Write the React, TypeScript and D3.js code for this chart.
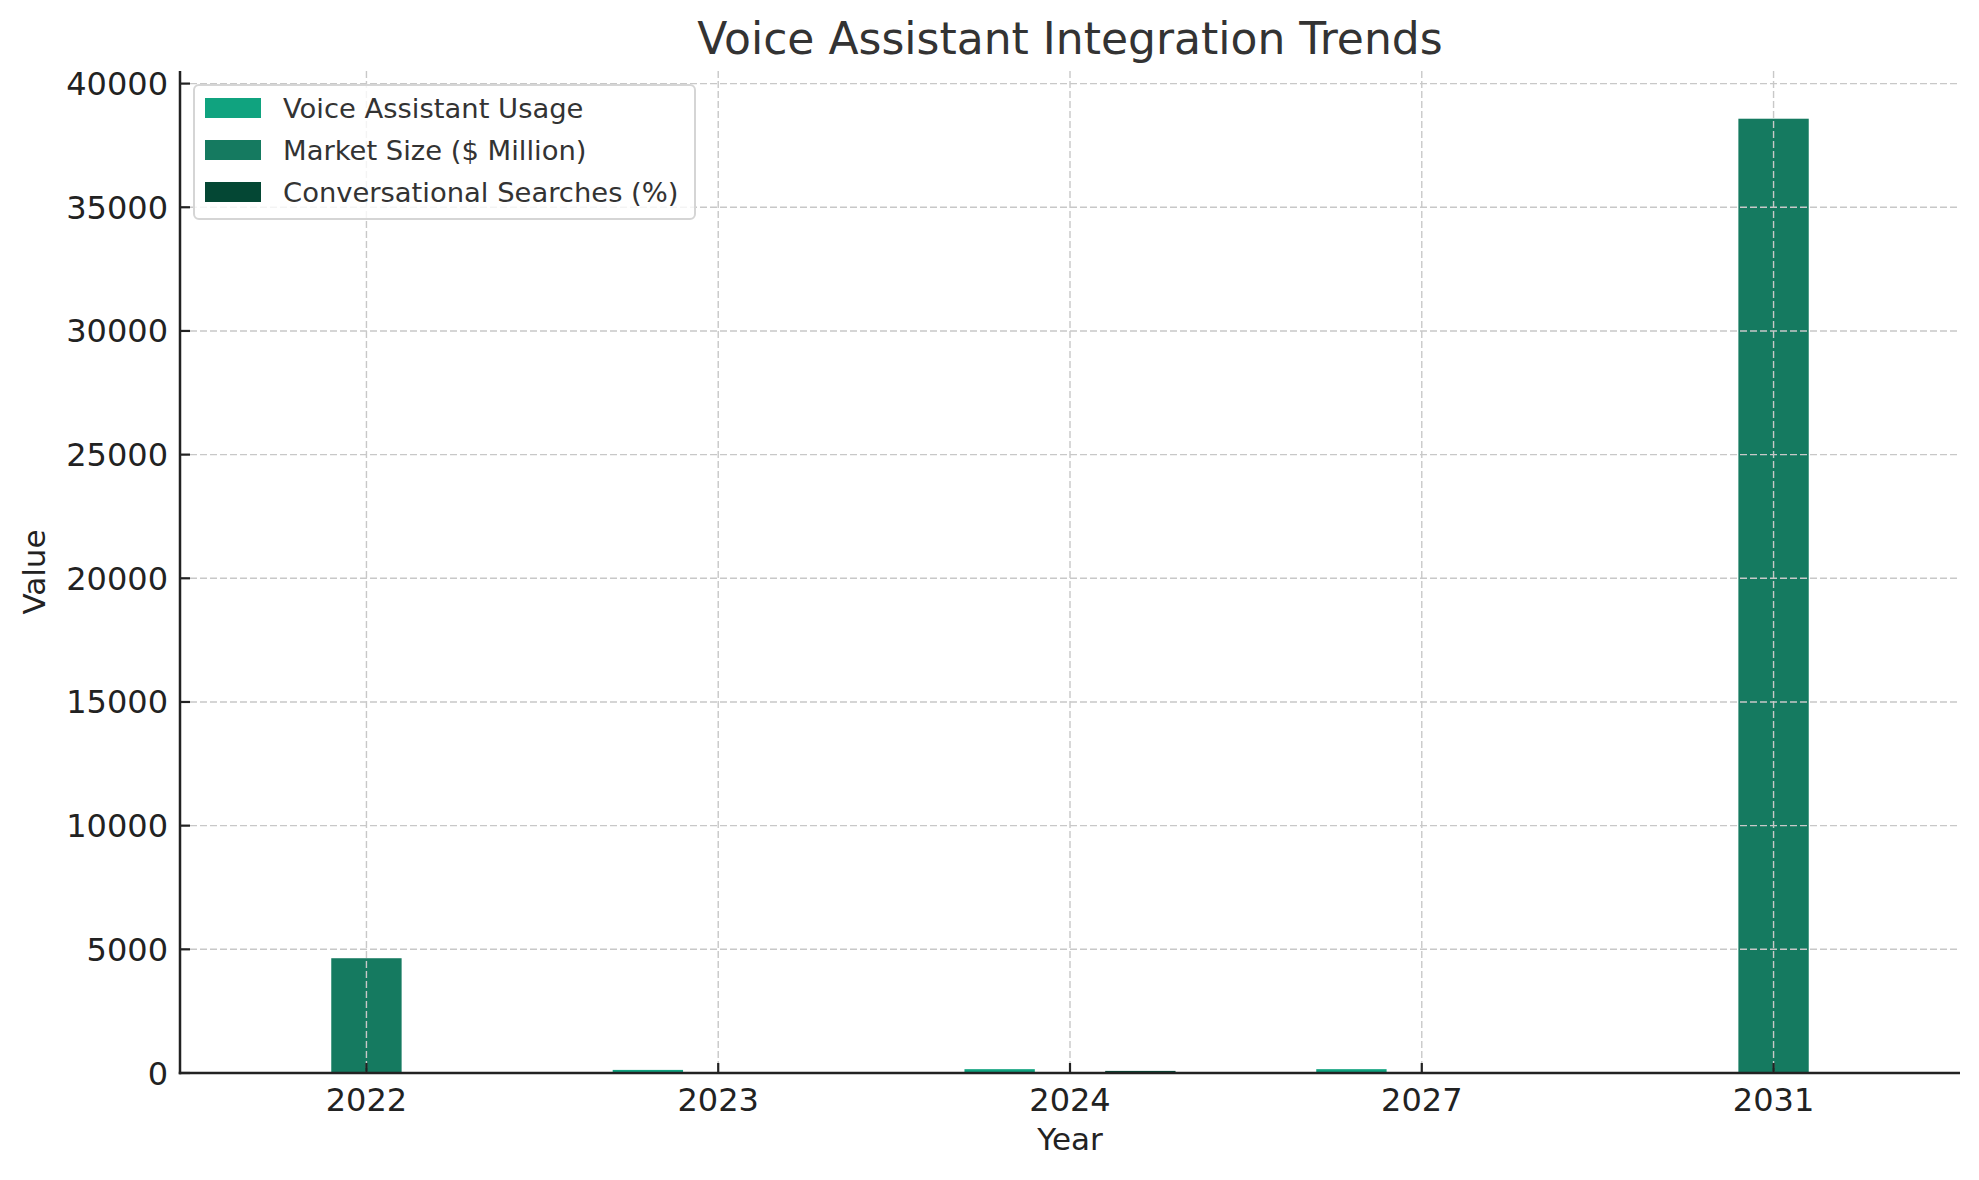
import React from 'react';
import * as d3 from 'd3';

// values
const years = ['2022', '2023', '2024', '2027', '2031'];
const voiceUsage = [0, 125, 155, 155, 0];
const marketSize = [4640, 0, 0, 0, 38580];
const convSearches = [0, 0, 85, 0, 0];
const seriesNames = ['Voice Assistant Usage', 'Market Size ($ Million)', 'Conversational Searches (%)'];
const seriesColors = ['#10a37f', '#157a60', '#044734'];
const yTicks = [0, 5000, 10000, 15000, 20000, 25000, 30000, 35000, 40000];

const W = 1979;
const H = 1180;
const margin = { top: 71, right: 19, bottom: 107, left: 180 };
const barWidth = 0.2;
const font = 'DejaVu Sans, sans-serif';

export default function App() {
  const series = [voiceUsage, marketSize, convSearches];

  const x = d3.scaleLinear()
    .domain([-0.53, years.length - 1 + 0.53])
    .range([margin.left, W - margin.right]);

  const yMax = (d3.max(series.flat()) || 1) * 1.05;
  const y = d3.scaleLinear()
    .domain([0, yMax])
    .range([H - margin.bottom, margin.top]);

  const plotLeft = margin.left;
  const plotRight = W - margin.right;
  const plotTop = margin.top;
  const plotBottom = H - margin.bottom;

  return (
    <svg width={W} height={H} style={{ position: 'absolute', left: 0, top: 0, background: '#fff' }}>
      {/* bars */}
      {series.map((vals, si) => (
        <g key={si} fill={seriesColors[si]}>
          {vals.map((v, i) => {
            const center = i + (si - 1) * barWidth;
            const x0 = x(center - barWidth / 2);
            const x1 = x(center + barWidth / 2);
            return v > 0 ? (
              <rect key={i} x={x0} y={y(v)} width={x1 - x0} height={y(0) - y(v)} />
            ) : null;
          })}
        </g>
      ))}

      {/* grid, drawn above the bars like matplotlib */}
      <g stroke="#c8c8c8" strokeWidth={1.4} strokeDasharray="7,3">
        {yTicks.map(t => (
          <line key={'h' + t} x1={plotLeft} x2={plotRight} y1={y(t)} y2={y(t)} />
        ))}
        {years.map((yr, i) => (
          <line key={'v' + yr} x1={x(i)} x2={x(i)} y1={plotTop} y2={plotBottom} />
        ))}
      </g>

      {/* spines */}
      <line x1={plotLeft} x2={plotLeft} y1={plotTop} y2={plotBottom + 1.25} stroke="#222" strokeWidth={2.5} />
      <line x1={plotLeft - 1.25} x2={plotRight} y1={plotBottom} y2={plotBottom} stroke="#222" strokeWidth={2.5} />

      {/* y ticks (inward) */}
      <g fontFamily={font} fontSize={32} fill="#222">
        {yTicks.map(t => (
          <g key={t}>
            <line x1={plotLeft} x2={plotLeft + 10} y1={y(t)} y2={y(t)} stroke="#222" strokeWidth={2.2} />
            <text x={plotLeft - 12} y={y(t)} dy="0.36em" textAnchor="end">{t}</text>
          </g>
        ))}
      </g>

      {/* x ticks (inward) */}
      <g fontFamily={font} fontSize={32} fill="#222">
        {years.map((yr, i) => (
          <g key={yr}>
            <line x1={x(i)} x2={x(i)} y1={plotBottom} y2={plotBottom - 10} stroke="#222" strokeWidth={2.2} />
            <text x={x(i)} y={plotBottom + 38} textAnchor="middle">{yr}</text>
          </g>
        ))}
      </g>

      {/* axis labels */}
      <text x={(plotLeft + plotRight) / 2} y={1150} textAnchor="middle" fontFamily={font} fontSize={31} fill="#222">Year</text>
      <text transform={`translate(45, ${(plotTop + plotBottom) / 2}) rotate(-90)`} textAnchor="middle" fontFamily={font} fontSize={31} fill="#222">Value</text>

      {/* title */}
      <text x={(plotLeft + plotRight) / 2} y={54} textAnchor="middle" fontFamily={font} fontSize={44} fill="#333">Voice Assistant Integration Trends</text>

      {/* legend */}
      <g>
        <rect x={194} y={85} width={501} height={134} rx={5} fill="#fff" fillOpacity={0.8} stroke="#d5d5d5" strokeWidth={2} />
        {seriesNames.map((name, i) => (
          <g key={name} transform={`translate(0, ${i * 42})`}>
            <rect x={205} y={98} width={56} height={20} fill={seriesColors[i]} />
            <text x={283} y={108} dy="0.36em" fontFamily={font} fontSize={27.4} fill="#333">{name}</text>
          </g>
        ))}
      </g>
    </svg>
  );
}
